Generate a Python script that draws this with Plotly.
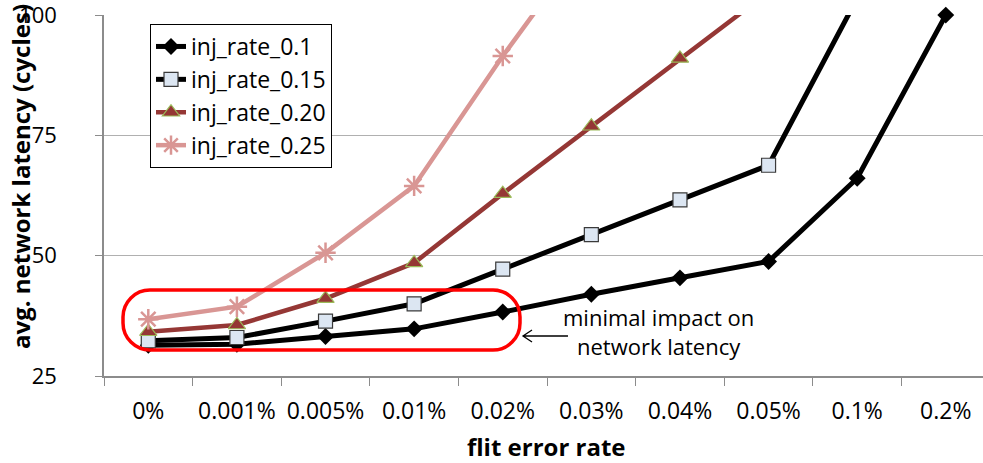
import plotly.graph_objects as go

# ---------------- data ----------------
categories = ["0%", "0.001%", "0.005%", "0.01%", "0.02%", "0.03%", "0.04%", "0.05%", "0.1%", "0.2%"]
inj_rate_0_10 = [31.4, 31.6, 33.2, 34.8, 38.3, 42.0, 45.4, 48.8, 66.1, 100.0]
inj_rate_0_15 = [32.3, 33.0, 36.4, 40.0, 47.2, 54.4, 61.6, 68.8, 103.5, None]
inj_rate_0_20 = [34.2, 35.6, 41.1, 48.5, 62.9, 76.9, 91.0, 104.8, None, None]
inj_rate_0_25 = [36.8, 39.4, 50.6, 64.5, 91.5, 116.6, None, None, None, None]
series_names = ["inj_rate_0.1", "inj_rate_0.15", "inj_rate_0.20", "inj_rate_0.25"]
y_ticks = [25, 50, 75, 100]
x_title = "flit error rate"
y_title = "avg. network latency (cycles)"
note_text = "minimal impact on<br>network latency"

# ---------------- layout geometry ----------------
W, H = 983, 463
ML, MR, MT, MB = 104, 0, 15, 87
PW, PH = W - ML - MR, H - MT - MB
FONT = "Open Sans"


def px(x):
    return (x - ML) / PW


def py(y):
    return (H - MB - y) / PH


fig = go.Figure()

fig.add_trace(go.Scatter(
    x=categories, y=inj_rate_0_10, name=series_names[0], mode="lines+markers",
    line=dict(color="#000000", width=5),
    marker=dict(symbol="diamond", size=13, color="#000000"),
    cliponaxis=False, legendgroup="a",
))
fig.add_trace(go.Scatter(
    x=categories, y=inj_rate_0_15, name=series_names[1], mode="lines+markers",
    line=dict(color="#000000", width=5),
    marker=dict(symbol="square", size=14, color="#DCE6F2",
                line=dict(color="#3A3A3A", width=1.2)),
    legendgroup="b",
))
fig.add_trace(go.Scatter(
    x=categories, y=inj_rate_0_20, name=series_names[2], mode="lines+markers",
    line=dict(color="#953735", width=4.5),
    marker=dict(symbol="triangle-up", size=15, color="#953735",
                line=dict(color="#9BBB59", width=1.2)),
    legendgroup="c",
))
fig.add_trace(go.Scatter(
    x=categories, y=inj_rate_0_25, name=series_names[3], mode="lines+markers",
    line=dict(color="#D99694", width=4.5),
    marker=dict(symbol="asterisk-open", size=17, color="#D99694",
                line=dict(color="#D99694", width=2.5)),
    legendgroup="d",
))


def rounded_rect(x0, y0, x1, y1, r):
    k = 0.5523 * r
    pts = [
        ("M", [(x0 + r, y0)]),
        ("L", [(x1 - r, y0)]),
        ("C", [(x1 - r + k, y0), (x1, y0 + r - k), (x1, y0 + r)]),
        ("L", [(x1, y1 - r)]),
        ("C", [(x1, y1 - r + k), (x1 - r + k, y1), (x1 - r, y1)]),
        ("L", [(x0 + r, y1)]),
        ("C", [(x0 + r - k, y1), (x0, y1 - r + k), (x0, y1 - r)]),
        ("L", [(x0, y0 + r)]),
        ("C", [(x0, y0 + r - k), (x0 + r - k, y0), (x0 + r, y0)]),
    ]
    s = ""
    for cmd, ps in pts:
        s += cmd + " " + " ".join(f"{px(a):.5f},{py(b):.5f}" for a, b in ps) + " "
    return s + "Z"


shapes = [
    dict(type="path", xref="paper", yref="paper",
         path=rounded_rect(123, 290, 520, 350, 27),
         line=dict(color="#FF0000", width=3.5), fillcolor="rgba(0,0,0,0)"),
    dict(type="path", xref="paper", yref="paper",
         path=(f"M {px(568):.5f},{py(336):.5f} L {px(523):.5f},{py(336):.5f} "
               f"M {px(532):.5f},{py(330):.5f} L {px(523):.5f},{py(336):.5f} "
               f"L {px(532):.5f},{py(342):.5f}"),
         line=dict(color="#000000", width=1.3)),
]

annotations = [
    dict(text=note_text, xref="paper", yref="paper", x=px(658), y=py(331.5),
         xanchor="center", yanchor="middle", showarrow=False,
         font=dict(family=FONT, size=22, color="#000000")),
    dict(text=f"<b>{x_title}</b>", xref="paper", yref="paper", x=px(546), y=py(446),
         xanchor="center", yanchor="middle", showarrow=False,
         font=dict(family=FONT, size=24, color="#000000")),
    dict(text=f"<b>{y_title}</b>", xref="paper", yref="paper", x=px(20), y=py(177),
         xanchor="center", yanchor="middle", showarrow=False, textangle=-90,
         font=dict(family=FONT, size=24, color="#000000")),
]

fig.update_layout(
    width=W, height=H, autosize=False,
    margin=dict(l=ML, r=MR, t=MT, b=MB, pad=0),
    paper_bgcolor="white", plot_bgcolor="white",
    font=dict(family=FONT, size=22, color="#000000"),
    showlegend=True,
    legend=dict(x=px(150), y=py(24), xanchor="left", yanchor="top",
                bgcolor="white", bordercolor="#000000", borderwidth=1,
                font=dict(family=FONT, size=23, color="#000000"),
                tracegroupgap=4, traceorder="normal"),
    shapes=shapes,
    annotations=annotations,
    xaxis=dict(type="category", range=[-0.5, 9.42], showgrid=False,
               showline=True, linecolor="#8C8C8C", linewidth=1.5,
               ticks="outside", tickson="boundaries", ticklen=8,
               tickcolor="#8C8C8C", tickwidth=1.3,
               tickfont=dict(family=FONT, size=23, color="#000000"),
               ticklabelstandoff=14,
               zeroline=False, fixedrange=True),
    yaxis=dict(range=[25, 100.02], tickvals=y_ticks, showgrid=True,
               gridcolor="#B0B0B0", gridwidth=1.2,
               showline=True, linecolor="#8C8C8C", linewidth=1.5,
               ticks="outside", ticklen=7, tickcolor="#8C8C8C", tickwidth=1.3,
               tickfont=dict(family=FONT, size=22, color="#000000"),
               ticklabelstandoff=34, ticklabeloverflow="allow", zeroline=False),
)

fig.write_html("out.html", config={"displayModeBar": False},
               post_script="document.body.style.margin='0';document.body.style.padding='0';")
